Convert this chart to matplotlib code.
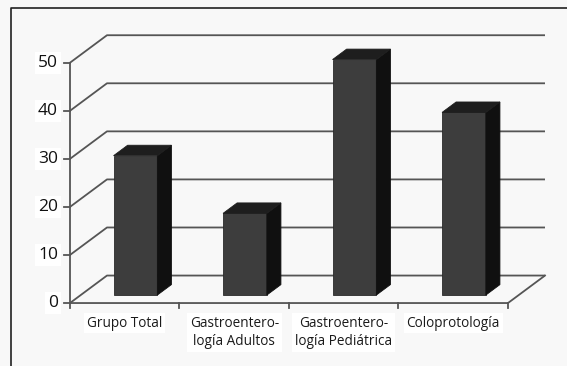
import matplotlib
matplotlib.use("Agg")
import matplotlib.pyplot as plt
from matplotlib.patches import Polygon, Rectangle
from matplotlib.lines import Line2D

plt.rcParams["font.family"] = ["Open Sans", "DejaVu Sans"]

categories = ["Grupo Total", "Gastroentero-\nlogía Adultos",
              "Gastroentero-\nlogía Pediátrica", "Coloprotología"]
values = [29, 17, 49, 38]
y_ticks = [0, 10, 20, 30, 40, 50]

# fake 3D: offset of the back wall (data units) and bar depth placement
DX, DY = 0.338, 5.72
BAR_W = 0.40
Z_FRONT, Z_BACK = 0.29, 0.67

fig = plt.figure(figsize=(5.67, 3.66), dpi=100, facecolor="#f8f8f8")
ax = fig.add_axes([0, 0, 1, 1])
ax.set_xlim(-1.139, 4.039)
ax.set_ylim(-13.1, 63.05)
ax.axis("off")

n = len(categories)
x_left, x_right = -0.5, n - 0.5
grid_c = "#555555"
lw = 1.3

# walls + gridlines
for v in y_ticks:
    ax.plot([x_left, x_left + DX, x_right + DX], [v, v + DY, v + DY],
            color=grid_c, lw=lw, zorder=1, solid_capstyle="butt")
    ax.plot([x_left - 0.05, x_left], [v, v], color=grid_c, lw=lw, zorder=1)
    ax.text(x_left - 0.11, v, str(v), ha="right", va="center", fontsize=12.5,
            color="#111111", bbox=dict(facecolor="white", edgecolor="none", pad=2))

# floor + axes
ax.plot([x_left, x_left], [0, y_ticks[-1]], color=grid_c, lw=lw, zorder=1)
ax.plot([x_left, x_right, x_right + DX], [0, 0, DY], color=grid_c, lw=lw, zorder=1)
for i in range(n + 1):
    ax.plot([x_left + i, x_left + i], [0, -1.1], color=grid_c, lw=lw, zorder=1)

# bars
dd = Z_BACK - Z_FRONT
for i, v in enumerate(values):
    x0 = i - BAR_W / 2 + Z_FRONT * DX
    y0 = Z_FRONT * DY
    x1 = x0 + BAR_W
    ax.add_patch(Rectangle((x0, y0), BAR_W, v, facecolor="#3d3d3d",
                           edgecolor="#2a2a2a", lw=0.6, zorder=3))
    side = [(x1, y0), (x1 + dd * DX, y0 + dd * DY),
            (x1 + dd * DX, y0 + v + dd * DY), (x1, y0 + v)]
    ax.add_patch(Polygon(side, closed=True, facecolor="#101010",
                         edgecolor="#101010", lw=0.6, zorder=3))
    top = [(x0, y0 + v), (x1, y0 + v),
           (x1 + dd * DX, y0 + v + dd * DY), (x0 + dd * DX, y0 + v + dd * DY)]
    ax.add_patch(Polygon(top, closed=True, facecolor="#1e1e1e",
                         edgecolor="#1e1e1e", lw=0.6, zorder=3))

# category labels
for i, lab in enumerate(categories):
    ax.text(i, -2.6, lab, ha="center", va="top", fontsize=9.8,
            linespacing=1.35, color="#1a1a1a",
            bbox=dict(facecolor="white", edgecolor="none", pad=2))

# outer frame (left and top edges visible)
fig.add_artist(Line2D([11 / 567, 11 / 567, 1], [0, 1 - 7.5 / 366, 1 - 7.5 / 366],
                      transform=fig.transFigure, color="#222222", lw=1.2))

fig.savefig("out.png", dpi=100, facecolor=fig.get_facecolor())
